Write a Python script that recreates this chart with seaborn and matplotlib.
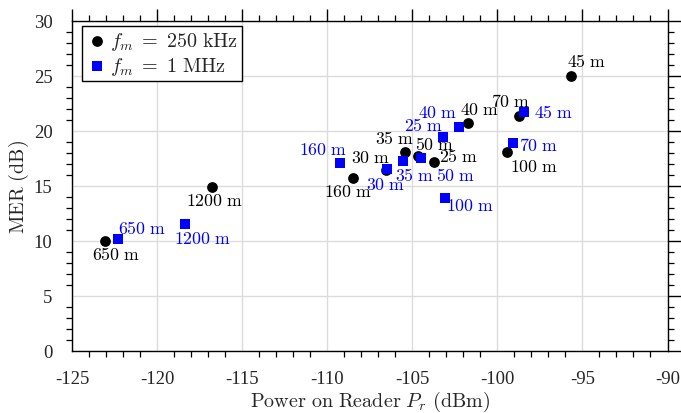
import matplotlib
matplotlib.use("Agg")
import matplotlib.pyplot as plt
from matplotlib.ticker import MultipleLocator
import seaborn as sns
import pandas as pd

# Measured MER versus received power, labelled by tag-reader distance
dist_250k = ["650 m", "1200 m", "160 m", "30 m", "35 m", "50 m", "25 m", "40 m", "70 m", "100 m", "45 m"]
pr_250k = [-123.05, -116.75, -108.5, -106.55, -105.4, -104.65, -103.7, -101.75, -98.75, -99.45, -95.7]
mer_250k = [10.0, 14.85, 15.7, 16.45, 18.1, 17.7, 17.2, 20.7, 21.4, 18.1, 25.0]

dist_1m = ["650 m", "1200 m", "160 m", "30 m", "35 m", "50 m", "25 m", "40 m", "100 m", "70 m", "45 m"]
pr_1m = [-122.3, -118.35, -109.25, -106.5, -105.55, -104.5, -103.2, -102.25, -103.05, -99.1, -98.45]
mer_1m = [10.2, 11.5, 17.1, 16.5, 17.3, 17.5, 19.4, 20.4, 13.85, 18.9, 21.7]

series_250k = r"$f_m\;=\;250\ \mathrm{kHz}$"
series_1m = r"$f_m\;=\;1\ \mathrm{MHz}$"

df = pd.concat([
    pd.DataFrame({"Pr": pr_250k, "MER": mer_250k, "dist": dist_250k, "series": series_250k}),
    pd.DataFrame({"Pr": pr_1m, "MER": mer_1m, "dist": dist_1m, "series": series_1m}),
], ignore_index=True)

# Label placement (pixel offsets of text centre from the marker, x right / y up)
label_offsets = {
    series_250k: {"650 m": (11, -14), "1200 m": (2, -13), "160 m": (-5, -13), "30 m": (-15, 12),
                  "35 m": (-11, 13), "50 m": (16, 12), "25 m": (24, 5), "40 m": (12, 14),
                  "70 m": (-8, 14), "100 m": (27, -15), "45 m": (16, 14)},
    series_1m: {"650 m": (24, 10), "1200 m": (17, -14), "160 m": (-17, 13), "30 m": (-1, -15),
                "35 m": (12, -15), "50 m": (35, -17), "25 m": (-19, 12), "40 m": (-21, 14),
                "100 m": (25, -7), "70 m": (26, -3), "45 m": (30, 0)},
}

sns.set_theme(style="white")
plt.rcParams["font.family"] = ["Liberation Serif", "DejaVu Serif"]
plt.rcParams["mathtext.fontset"] = "cm"

W, H = 681, 414
fig = plt.figure(figsize=(W / 100, H / 100), dpi=100)
ax = fig.add_axes([72 / W, 1 - 351.7 / H, 595.5 / W, 329.7 / H])

palette = {series_250k: "black", series_1m: "#0000ff"}
markers = {series_250k: "o", series_1m: "s"}
sizes = {series_250k: 60, series_1m: 44}

for name in [series_250k, series_1m]:
    sub = df[df["series"] == name]
    sns.scatterplot(data=sub, x="Pr", y="MER", color=palette[name], marker=markers[name],
                    s=sizes[name], linewidth=0, ax=ax, label=name, zorder=3)
    for _, row in sub.iterrows():
        dx, dy = label_offsets[name][row["dist"]]
        num, unit = row["dist"].split()
        ax.annotate(r"$\mathrm{%s\ %s}$" % (num, unit), (row["Pr"], row["MER"]),
                    xytext=(dx, dy), textcoords="offset pixels", ha="center", va="center",
                    fontsize=12.8, color=palette[name], zorder=4)

ax.set_xlim(-125, -90)
ax.set_ylim(0, 30)
ax.xaxis.set_major_locator(MultipleLocator(5))
ax.xaxis.set_minor_locator(MultipleLocator(1))
ax.yaxis.set_major_locator(MultipleLocator(5))
ax.yaxis.set_minor_locator(MultipleLocator(1))
ax.set_xticklabels([f"{int(v)}" for v in ax.get_xticks()])
ax.grid(True, which="major", color="#dcdcdc", linewidth=1.0)
ax.set_axisbelow(True)

for sp in ax.spines.values():
    sp.set_color("black")
    sp.set_linewidth(1.0)

ax.tick_params(which="major", direction="out", length=9, width=1.0, color="black",
               top=True, right=True, labelsize=13.5, pad=5)
ax.tick_params(which="minor", direction="out", length=4.5, width=0.9, color="black",
               top=True, right=True, bottom=True, left=True)

ax.set_xlabel(r"$\mathrm{Power\ on\ Reader}\ P_r\ \mathrm{(dBm)}$", fontsize=14.5, labelpad=1)
ax.set_ylabel(r"$\mathrm{MER\ (dB)}$", fontsize=14.5, labelpad=2)

leg = ax.legend(loc="upper left", bbox_to_anchor=(0.016, 0.985), frameon=True, fancybox=False,
                edgecolor="black", fontsize=14.5, handletextpad=0.1, borderpad=0.2,
                labelspacing=0.15, handlelength=1.1, borderaxespad=0)
leg.get_frame().set_linewidth(1.0)
leg.get_frame().set_alpha(1)

fig.savefig("out.png", dpi=100)
